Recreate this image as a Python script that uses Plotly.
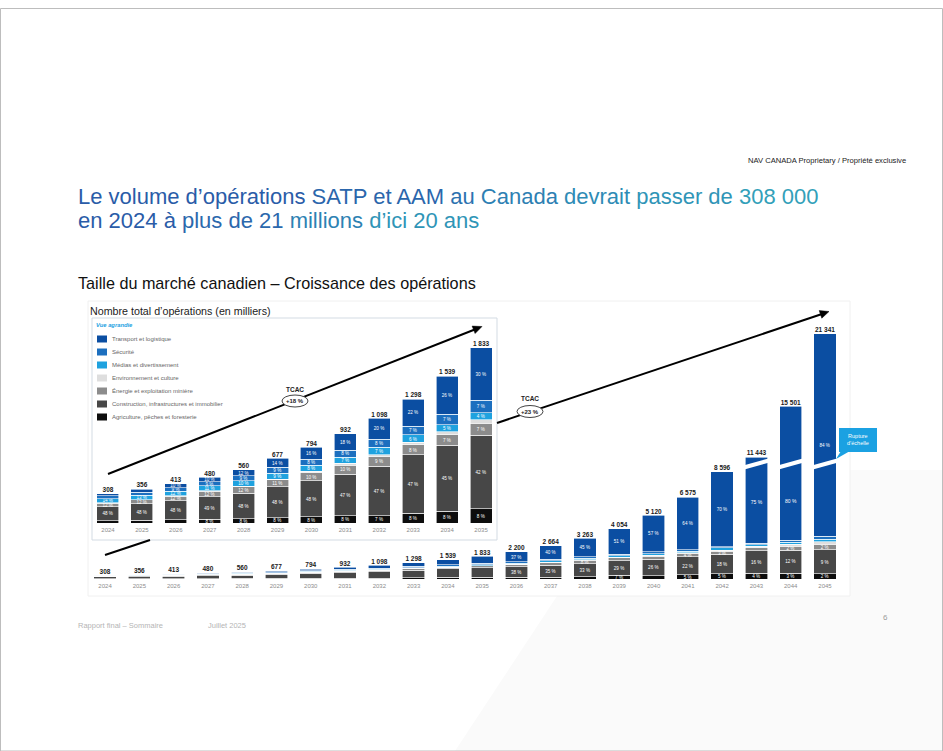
import plotly.graph_objects as go

W, H = 943, 751


def fx(x):
    return x / W


def fy(y):
    return 1 - y / H


# ---------------- data ----------------
years = [str(y) for y in range(2024, 2046)]
inset_years = years[:12]
break_years = years[19:]
totals = [308, 356, 413, 480, 560, 677, 794, 932, 1098, 1298, 1539, 1833,
          2200, 2664, 3263, 4054, 5120, 6575, 8596, 11443, 15501, 21341]

categories = [
    "Transport et logistique",
    "Sécurité",
    "Médias et divertissement",
    "Environnement et culture",
    "Énergie et exploitation minière",
    "Construction, infrastructures et immobilier",
    "Agriculture, pêches et foresterie",
]
colors = ["#0b4ea2", "#1c6fbf", "#1fa2df", "#dedede", "#8c8c8c", "#474747", "#0d0d0d"]

# shares in % per year (2024 ... 2045)
share_transport = [8, 9, 10, 10, 12, 14, 16, 18, 20, 22, 26, 30, 37, 40, 45, 51, 57, 64, 70, 75, 80, 84]
share_securite = [9, 9, 9, 9, 9, 9, 8, 8, 8, 7, 7, 7, 5, 5, 4, 3, 3, 2, 1, 1, 1, 1]
share_medias = [14, 13, 12, 11, 10, 9, 8, 7, 7, 6, 5, 4, 5, 5, 4, 3, 3, 2, 2, 1, 1, 1]
share_environnement = [1, 1, 1, 1, 1, 1, 2, 2, 2, 2, 2, 2, 1, 1, 1, 1, 1, 1, 1, 1, 1, 1]
share_energie = [12, 12, 12, 12, 12, 11, 10, 10, 9, 8, 7, 7, 8, 8, 8, 6, 5, 4, 3, 2, 2, 2]
share_construction = [48, 48, 48, 49, 48, 48, 48, 47, 47, 47, 45, 42, 38, 35, 33, 29, 26, 22, 18, 16, 12, 9]
share_agriculture = [8, 8, 8, 8, 8, 8, 8, 8, 7, 8, 8, 8, 6, 6, 5, 7, 5, 5, 5, 4, 3, 2]
shares = [share_transport, share_securite, share_medias, share_environnement,
          share_energie, share_construction, share_agriculture]

cagr_labels = ["+18 %", "+23 %"]

# ---------------- axes geometry ----------------
K_MAIN = 80.3      # thousands per pixel, main chart
K_INSET = 10.47    # thousands per pixel, inset
LOW_TOP = 116 * K_MAIN          # top of lower part of the broken axis
UP_BOTTOM = 10961               # bottom of upper part
UP_TOP = UP_BOTTOM + 145 * K_MAIN
MIN_LABEL_PX = 3.2              # segments thinner than this carry no label


def fmt(v):
    return f"{v:,}".replace(",", " ")


fig = go.Figure()

bar_line = dict(color="white", width=0.6)
seg_font = dict(size=5, color="white", family="Liberation Sans")
for name, color, share in reversed(list(zip(categories, colors, shares))):
    vals = [t * s / 100 for t, s in zip(totals, share)]
    is_env = name.startswith("Environnement")
    is_tr = name.startswith("Transport")
    # inset (zoomed view)
    inset_text = ["" if (is_env or v / K_INSET < MIN_LABEL_PX) else f"{s} %"
                  for v, s in zip(vals[:12], share[:12])]
    fig.add_trace(go.Bar(
        x=inset_years, y=vals[:12], name=name,
        marker=dict(color=color, line=bar_line),
        text=inset_text,
        textposition="inside", textangle=0, insidetextanchor="middle", textfont=seg_font,
        xaxis="x3", yaxis="y3", showlegend=False, hoverinfo="skip"))
    # main chart, lower part
    main_text = ["" if (is_env or i < 12 or v / K_MAIN < MIN_LABEL_PX) else f"{s} %"
                 for i, (v, s) in enumerate(zip(vals, share))]
    if is_tr:
        main_text[19:] = ["", "", ""]
    fig.add_trace(go.Bar(
        x=years, y=vals, name=name,
        marker=dict(color=color, line=bar_line),
        text=main_text, textposition="inside", textangle=0, insidetextanchor="middle", textfont=seg_font,
        xaxis="x", yaxis="y", showlegend=False, hoverinfo="skip"))
    # main chart, upper part (above the scale break)
    up_text = ["", "", f"{share[21]} %"] if is_tr else ["", "", ""]
    fig.add_trace(go.Bar(
        x=break_years, y=vals[19:], name=name,
        marker=dict(color=color, line=bar_line),
        text=up_text, textposition="inside", textangle=0, insidetextanchor="middle", textfont=seg_font,
        xaxis="x", yaxis="y2", showlegend=False, hoverinfo="skip"))

# transport labels of the two broken bars, centred on their visible lower part
tr_base = [t * (100 - s) / 100 for t, s in zip(totals[19:21], share_transport[19:21])]
fig.add_trace(go.Scatter(x=break_years[:2], y=[(b + LOW_TOP) / 2 for b in tr_base], mode="text",
                         text=[f"{s} %" for s in share_transport[19:21]], textposition="middle center",
                         textfont=seg_font, xaxis="x", yaxis="y", showlegend=False, hoverinfo="skip"))

tot_font = dict(size=6.5, color="#1a1a1a", family="Liberation Sans", weight="bold")
fig.add_trace(go.Scatter(x=inset_years, y=totals[:12], mode="text", text=[fmt(v) for v in totals[:12]],
                         textposition="top center", textfont=tot_font, xaxis="x3", yaxis="y3",
                         showlegend=False, hoverinfo="skip", cliponaxis=False))
fig.add_trace(go.Scatter(x=years[:19], y=totals[:19], mode="text", text=[fmt(v) for v in totals[:19]],
                         textposition="top center", textfont=tot_font, xaxis="x", yaxis="y",
                         showlegend=False, hoverinfo="skip", cliponaxis=False))
fig.add_trace(go.Scatter(x=break_years, y=totals[19:], mode="text", text=[fmt(v) for v in totals[19:]],
                         textposition="top center", textfont=tot_font, xaxis="x", yaxis="y2",
                         showlegend=False, hoverinfo="skip", cliponaxis=False))

tick_font = dict(size=6, color="#8c8c8c", family="Liberation Sans")
fig.update_layout(
    width=W, height=H, margin=dict(l=0, r=0, t=0, b=0),
    paper_bgcolor="white", plot_bgcolor="rgba(0,0,0,0)",
    barmode="stack", bargap=0.35, showlegend=False,
    uniformtext=dict(minsize=4.5, mode="show"),
    font=dict(family="Liberation Sans"),
    xaxis=dict(domain=[fx(87.9), fx(842.1)], anchor="y", type="category", range=[-0.5, 21.5],
               categoryorder="array", categoryarray=years, tickfont=tick_font,
               showgrid=False, zeroline=False, showline=False, ticks="", ticklabelstandoff=2),
    yaxis=dict(domain=[fy(579), fy(463)], range=[0, LOW_TOP], visible=False, anchor="x"),
    yaxis2=dict(domain=[fy(463), fy(318)], range=[UP_BOTTOM, UP_TOP], visible=False, anchor="x"),
    xaxis3=dict(domain=[fx(91), fx(498)], anchor="y3", type="category", range=[-0.5, 11.5],
                categoryorder="array", categoryarray=inset_years, tickfont=tick_font,
                showgrid=False, zeroline=False, showline=False, ticks="", ticklabelstandoff=2),
    yaxis3=dict(domain=[fy(523), fy(318)], range=[0, 205 * K_INSET], visible=False, anchor="x3"),
)

shapes = []
# page frame and faint background
shapes.append(dict(type="path", path=f"M {fx(455)} {fy(751)} L {fx(640)} {fy(470)} L {fx(943)} {fy(470)} L {fx(943)} {fy(751)} Z",
                   xref="paper", yref="paper", fillcolor="#fafafa", line=dict(width=0), layer="below"))
shapes.append(dict(type="rect", xref="paper", yref="paper", x0=fx(0.5), x1=fx(942.5), y0=fy(751), y1=fy(8.5),
                   line=dict(color="#bdbdbd", width=1), layer="below"))
# chart panel
shapes.append(dict(type="rect", xref="paper", yref="paper", x0=fx(88), x1=fx(850), y0=fy(596), y1=fy(301),
                   fillcolor="white", line=dict(color="#f0f0f0", width=1), layer="below"))
# inset box
shapes.append(dict(type="rect", xref="paper", yref="paper", x0=fx(92), x1=fx(497), y0=fy(540), y1=fy(318),
                   fillcolor="white", line=dict(color="#d3dbe3", width=1), layer="below"))
# legend swatches
for i, c in enumerate(colors):
    yc = 339 + 13 * i
    shapes.append(dict(type="rect", xref="paper", yref="paper", x0=fx(97), x1=fx(107),
                       y0=fy(yc + 3.5), y1=fy(yc - 3.5), fillcolor=c, line=dict(width=0)))
# CAGR arrow lines
shapes.append(dict(type="line", xref="paper", yref="paper", x0=fx(108), y0=fy(474), x1=fx(476), y1=fy(329),
                   line=dict(color="black", width=2)))
shapes.append(dict(type="line", xref="paper", yref="paper", x0=fx(497), y0=fy(423), x1=fx(822), y1=fy(314),
                   line=dict(color="black", width=2)))
shapes.append(dict(type="line", xref="paper", yref="paper", x0=fx(105), y0=fy(555), x1=fx(150), y1=fy(540),
                   line=dict(color="black", width=2)))
# arrowheads
for tip, b1, b2 in [((482, 326.5), (475.1, 333.5), (472.1, 326.1)),
                    ((829, 311.5), (821.8, 318.2), (819.2, 310.6))]:
    shapes.append(dict(type="path", xref="paper", yref="paper",
                       path=(f"M {fx(tip[0])} {fy(tip[1])} L {fx(b1[0])} {fy(b1[1])} "
                             f"L {fx(b2[0])} {fy(b2[1])} Z"),
                       fillcolor="black", line=dict(color="black", width=0.5)))
# CAGR ovals
shapes.append(dict(type="circle", xref="paper", yref="paper", x0=fx(282), x1=fx(308), y0=fy(407), y1=fy(395),
                   fillcolor="white", line=dict(color="#444444", width=1)))
shapes.append(dict(type="circle", xref="paper", yref="paper", x0=fx(517), x1=fx(543), y0=fy(417.5), y1=fy(405.5),
                   fillcolor="white", line=dict(color="#444444", width=1)))
# scale-break strokes
for i in range(19, 22):
    shapes.append(dict(type="line", xref="x", yref="paper", x0=i - 0.42, x1=i + 0.42,
                       y0=fy(468), y1=fy(460), line=dict(color="white", width=4)))
# callout "Rupture d'échelle"
shapes.append(dict(type="rect", xref="paper", yref="paper", x0=fx(839), x1=fx(877), y0=fy(452), y1=fy(428),
                   fillcolor="#1ba1e2", line=dict(width=0)))
shapes.append(dict(type="path", xref="paper", yref="paper",
                   path=f"M {fx(841)} {fy(451)} L {fx(850)} {fy(451)} L {fx(836)} {fy(459)} Z",
                   fillcolor="#1ba1e2", line=dict(width=0)))
fig.update_layout(shapes=shapes)

ann = []


def text(x, y, s, size, color="#1a1a1a", xanchor="left", weight="normal", family="Liberation Sans", style="normal"):
    ann.append(dict(x=fx(x), y=fy(y), xref="paper", yref="paper", text=s, showarrow=False,
                    xanchor=xanchor, yanchor="middle",
                    font=dict(size=size, color=color, family=family, weight=weight, style=style)))


text(908, 160, "NAV CANADA Proprietary / Propriété exclusive", 7.6, "#222222", xanchor="right")

title1 = [("Le volume d’opérations", "#2a5ca8"), ("SATP et AAM", "#2b66ac"), ("au", "#2c72b0"),
          ("Canada", "#2d80b3"), ("devrait", "#2e8bb5"), ("passer de", "#2f95b7"), ("308 000", "#32a0b9")]
title2 = [("en 2024 à", "#2a5ca8"), ("plus de 21", "#2b68ad"), ("millions", "#2d82b3"),
          ("d’ici 20 ans", "#2f95b7")]
text(76, 197, " ".join(f'<span style="color:{c}">{w}</span>' for w, c in title1), 22)
text(76, 221, " ".join(f'<span style="color:{c}">{w}</span>' for w, c in title2), 22)
text(76, 283, "Taille du marché canadien – Croissance des opérations", 16.2, "#111111")
text(88, 311, "Nombre total d’opérations (en milliers)", 10.7, "#222222")
text(94, 325, "Vue agrandie", 5.8, "#1ba1e2", weight="bold", style="italic")
for i, name in enumerate(categories):
    text(110, 339 + 13 * i, name, 6, "#666666")

text(295, 389, "TCAC", 6.5, "#222222", xanchor="center", weight="bold")
text(295, 401, cagr_labels[0], 6, "#222222", xanchor="center", weight="bold")
text(530, 398, "TCAC", 6.5, "#222222", xanchor="center", weight="bold")
text(530, 411.5, cagr_labels[1], 6, "#222222", xanchor="center", weight="bold")
ann.append(dict(x=fx(858), y=fy(440), xref="paper", yref="paper", text="Rupture<br>d’échelle",
                showarrow=False, xanchor="center", yanchor="middle",
                font=dict(size=5.5, color="white", family="Liberation Sans")))

text(76, 625, "Rapport final – Sommaire", 7.5, "#b5b5b5")
text(206, 625, "Juillet 2025", 7.5, "#b5b5b5")
text(885, 617, "6", 8, "#9a9a9a", xanchor="center")

fig.update_layout(annotations=ann)
fig.write_html("out.html")
